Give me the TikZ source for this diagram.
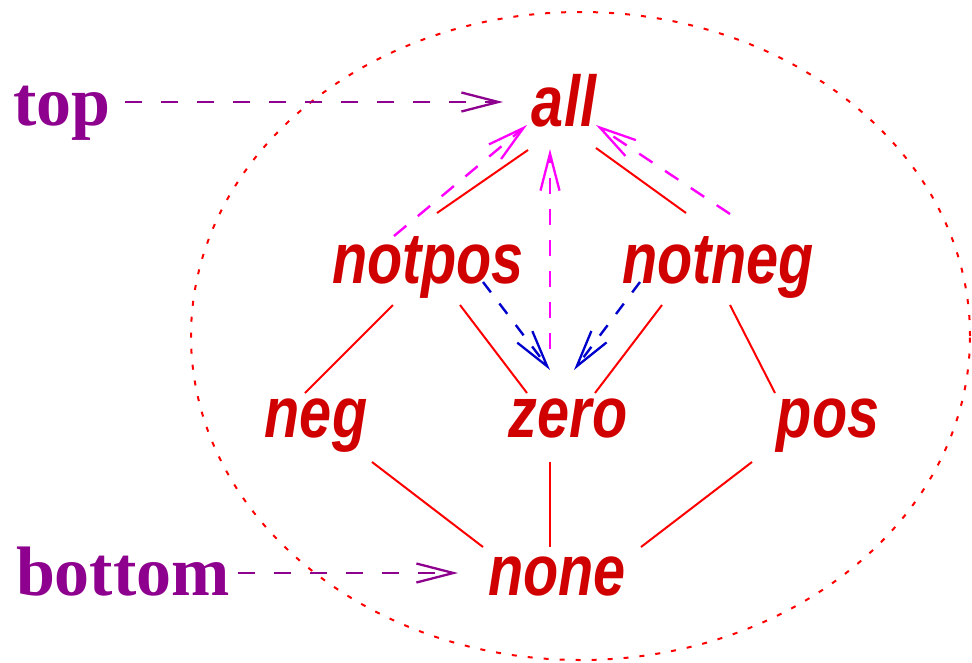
\documentclass[tikz,border=0pt]{standalone}
\usepackage{fontspec}
\usepackage{graphicx}
\usetikzlibrary{arrows.meta}
\newfontfamily\hvfont{Liberation Sans}
\newfontfamily\tmfont{Liberation Serif}
\definecolor{txtred}{RGB}{208,0,0}
\definecolor{purp}{RGB}{142,0,142}
\definecolor{lnred}{RGB}{255,0,0}
\definecolor{mag}{RGB}{255,0,255}
\definecolor{blu}{RGB}{0,0,205}
\tikzset{
  lbl/.style={anchor=base, inner sep=0pt, text=txtred,
    font=\hvfont\bfseries\itshape\fontsize{72}{72}\selectfont},
  side/.style={anchor=base, inner sep=0pt, text=purp,
    font=\tmfont\bfseries\fontsize{70}{70}\selectfont},
  edge/.style={draw=lnred, line width=2pt},
  barbtip/.style={-{Straight Barb[length=37pt,width=19pt,line width=2.3pt]}},
  updash/.style={draw=mag, line width=2.4pt, dash pattern=on 16pt off 15pt, barbtip},
  downdash/.style={draw=blu, line width=2.4pt, dash pattern=on 13pt off 14pt, barbtip},
  sidedash/.style={draw=purp, line width=2.6pt, dash pattern=on 17pt off 19pt, barbtip},
  bound/.style={draw=lnred, line width=2pt, dash pattern=on 5pt off 11pt}
}
\newcommand{\nar}[1]{\scalebox{0.8}[1]{#1}}
\begin{document}
\begin{tikzpicture}[x=1pt,y=-1pt]
\useasboundingbox (0,0) rectangle (972,662);
\draw[bound] (580.5,336) ellipse [x radius=389.5pt, y radius=324pt];
\node[lbl] (all) at (564,126) {\nar{all}};
\node[lbl] (notpos) at (428,283) {\nar{notpos}};
\node[lbl] (notneg) at (718,283) {\nar{notneg}};
\node[lbl] (neg) at (316,437) {\nar{neg}};
\node[lbl] (zero) at (568,437) {\nar{zero}};
\node[lbl] (pos) at (828,437) {\nar{pos}};
\node[lbl] (none) at (557,595) {\nar{none}};
\node[side] (top) at (62,125) {top};
\node[side] (bottom) at (123,595) {bottom};
% lattice edges
\draw[edge] ([shift={(-36,24)}]all.base) -- ([shift={(9,-70)}]notpos.base);
\draw[edge] ([shift={(32,22)}]all.base) -- ([shift={(-32,-70)}]notneg.base);
\draw[edge] ([shift={(-35,22)}]notpos.base) -- ([shift={(-11,-44)}]neg.base);
\draw[edge] ([shift={(32,22)}]notpos.base) -- ([shift={(-41,-44)}]zero.base);
\draw[edge] ([shift={(-56,22)}]notneg.base) -- ([shift={(27,-44)}]zero.base);
\draw[edge] ([shift={(12,22)}]notneg.base) -- ([shift={(-53,-44)}]pos.base);
\draw[edge] ([shift={(56,25)}]neg.base) -- ([shift={(-74,-48)}]none.base);
\draw[edge] ([shift={(-18,25)}]zero.base) -- ([shift={(-7,-48)}]none.base);
\draw[edge] ([shift={(-76,25)}]pos.base) -- ([shift={(84,-48)}]none.base);
% magenta arrows
\draw[updash] ([shift={(-34,-47)}]notpos.base) -- ([shift={(-37,-1)}]all.base);
\draw[updash] ([shift={(-18,-88)}]zero.base) -- ([shift={(-14,23)}]all.base);
\draw[updash] ([shift={(12,-69)}]notneg.base) -- ([shift={(32,-1)}]all.base);
% blue arrows
\draw[downdash] ([shift={(55,-1)}]notpos.base) -- ([shift={(-18,-67)}]zero.base);
\draw[downdash] ([shift={(-78,-1)}]notneg.base) -- ([shift={(6,-67)}]zero.base);
% purple arrows
\draw[sidedash] ([shift={(63,-23)}]top.base) -- ([shift={(-61,-24)}]all.base);
\draw[sidedash] ([shift={(115,-22)}]bottom.base) -- ([shift={(-99,-22)}]none.base);
\end{tikzpicture}
\end{document}
